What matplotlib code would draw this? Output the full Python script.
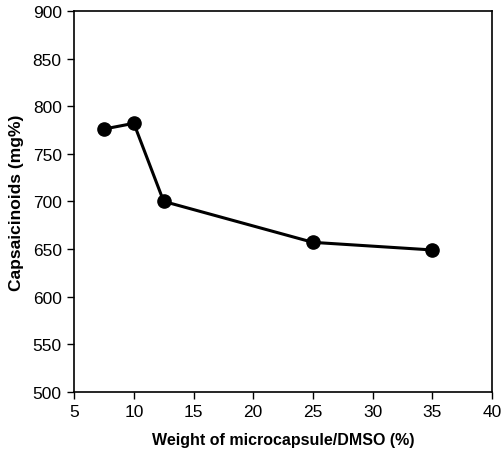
import matplotlib
matplotlib.use("Agg")
from matplotlib import pyplot as plt

# Capsaicinoid content vs. microcapsule loading in DMSO
weight_pct = [7.5, 10, 12.5, 25, 35]
capsaicinoids = [776, 782, 700, 657, 649]

x_ticks = [5, 10, 15, 20, 25, 30, 35, 40]
y_ticks = [500, 550, 600, 650, 700, 750, 800, 850, 900]

plt.rcParams['font.family'] = ['Liberation Sans', 'DejaVu Sans']

fig = plt.figure(figsize=(5.01, 4.60), dpi=100)
ax = fig.add_axes([0.148, 0.146, 0.834, 0.828])

ax.plot(weight_pct, capsaicinoids, color='black', lw=2.2,
        marker='o', markersize=9.5, markerfacecolor='black',
        markeredgecolor='black')

ax.set_xlim(5, 40)
ax.set_ylim(500, 900)
ax.set_xticks(x_ticks)
ax.set_yticks(y_ticks)
ax.tick_params(direction='out', length=5, width=1, labelsize=12.5,
               colors='black', pad=4)
for s in ax.spines.values():
    s.set_linewidth(1.2)
    s.set_color('black')

ax.set_xlabel('Weight of microcapsule/DMSO (%)', fontsize=11.5,
              fontweight='bold', labelpad=9)
ax.set_ylabel('Capsaicinoids (mg%)', fontsize=12.5, fontweight='bold',
              labelpad=6)

fig.savefig('out.png', dpi=100)
